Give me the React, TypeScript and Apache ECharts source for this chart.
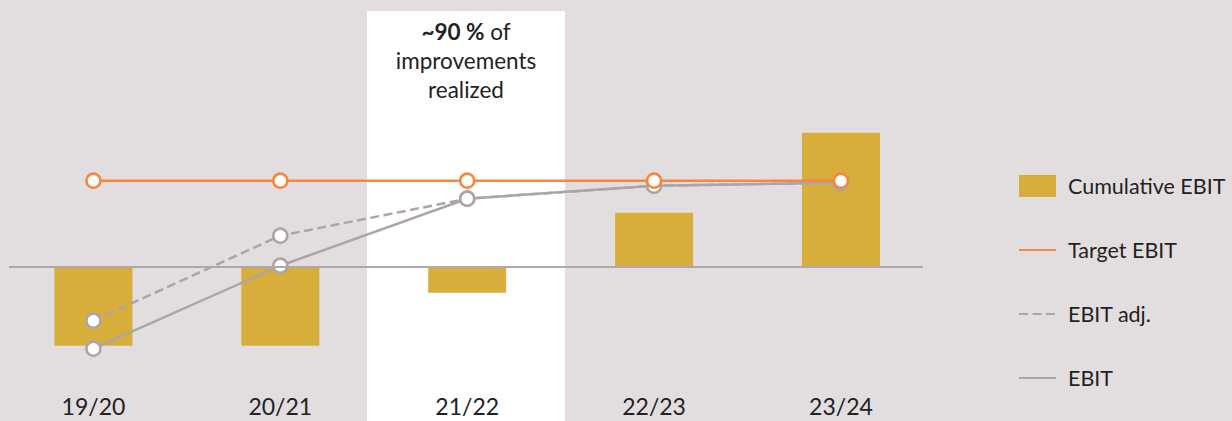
import React, { useEffect, useRef } from "react";
import * as echarts from "echarts";

const categories = ["19/20", "20/21", "21/22", "22/23", "23/24"];
const cumulativeEbit = [-79, -79, -26, 54, 134];
const targetEbit = [86, 86, 86, 86, 86];
const ebitAdj = [-54, 31, 68, 81, 84];
const ebit = [-82, 1, 68, 81, 84];

const BG = "#E2DEDF";
const GOLD = "#D7AE3B";
const ORANGE = "#F5873E";
const GRAY = "#ADA5A5";
const TEXT = "#222222";
const FONT = "Lato";

export default function App() {
  const ref = useRef<HTMLDivElement>(null);
  useEffect(() => {
    if (!ref.current) return;
    const chart = echarts.init(ref.current, undefined, { renderer: "svg" });
    const markerStyle = (c: string) => ({ color: "#ffffff", borderColor: c, borderWidth: 2.5 });
    chart.setOption({
      animation: false,
      backgroundColor: BG,
      textStyle: { fontFamily: FONT },
      grid: { left: -1.4, width: 935.8, top: 116.7, height: 250 },
      xAxis: {
        type: "category",
        data: categories,
        axisLine: { show: false },
        axisTick: { show: false },
        axisLabel: { color: TEXT, fontSize: 23, fontFamily: FONT, lineHeight: 23, margin: 28 },
        splitLine: { show: false },
      },
      yAxis: {
        type: "value",
        min: -100,
        max: 150,
        show: false,
        splitLine: { show: false },
      },
      legend: {
        orient: "vertical",
        left: 1018,
        top: 175,
        padding: 0,
        itemWidth: 37,
        itemHeight: 22,
        itemGap: 42,
        textStyle: { color: TEXT, fontSize: 21.5, fontFamily: FONT, padding: [0, 0, 0, 7] },
        data: [
          { name: "Cumulative EBIT", icon: "rect" },
          { name: "Target EBIT", itemStyle: { opacity: 0 } },
          { name: "EBIT adj.", itemStyle: { opacity: 0 } },
          { name: "EBIT", itemStyle: { opacity: 0 } },
        ],
      },
      graphic: [
        {
          type: "rect",
          z: 0,
          silent: true,
          shape: { x: 367, y: 11, width: 198, height: 410 },
          style: { fill: "#ffffff" },
        },
        {
          type: "text",
          z: 1,
          silent: true,
          x: 466,
          y: 17,
          style: {
            text: "{b|~90 %} of\nimprovements\nrealized",
            textAlign: "center",
            textVerticalAlign: "top",
            fontFamily: FONT,
            fontSize: 22.5,
            lineHeight: 29,
            fill: TEXT,
            rich: {
              b: { fontWeight: "bold", fontFamily: FONT, fontSize: 22.5, lineHeight: 29, fill: TEXT },
            },
          },
        },
      ],
      series: [
        {
          name: "Cumulative EBIT",
          type: "bar",
          data: cumulativeEbit,
          barWidth: 78,
          itemStyle: { color: GOLD },
          markLine: {
            silent: true,
            symbol: "none",
            label: { show: false },
            lineStyle: { color: "#B0A8A8", width: 2, type: "solid" },
            data: [[{ coord: [0, 0], x: 9 }, { coord: [4, 0], x: 923 }]],
          },
        },
        {
          name: "EBIT adj.",
          type: "line",
          data: ebitAdj,
          symbol: "circle",
          symbolSize: 14,
          lineStyle: { color: GRAY, width: 2.5, type: [9, 4.5] },
          itemStyle: markerStyle(GRAY),
          z: 3,
        },
        {
          name: "EBIT",
          type: "line",
          data: ebit,
          symbol: "circle",
          symbolSize: 14,
          lineStyle: { color: GRAY, width: 2.5 },
          itemStyle: markerStyle(GRAY),
          z: 4,
        },
        {
          name: "Target EBIT",
          type: "line",
          data: targetEbit,
          symbol: "circle",
          symbolSize: 14,
          lineStyle: { color: ORANGE, width: 2.5 },
          itemStyle: markerStyle(ORANGE),
          z: 5,
        },
      ],
    });
    return () => chart.dispose();
  }, []);
  return (
    <div
      ref={ref}
      style={{ position: "absolute", left: 0, top: 0, width: 1232, height: 421 }}
    />
  );
}
